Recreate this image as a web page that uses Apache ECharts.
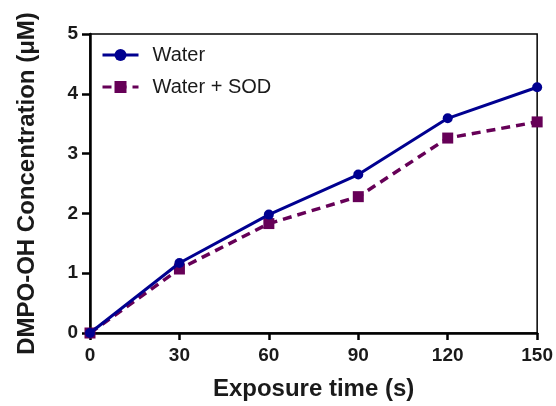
<!DOCTYPE html>
<html>
<head>
<meta charset="utf-8">
<script src="https://cdn.jsdelivr.net/npm/echarts@6/dist/echarts.min.js"></script>
<style>html,body{margin:0;padding:0;background:#fff;}#c{width:556px;height:406px;}</style>
</head>
<body>
<div id="c"></div>
<script>
const times = [0, 30, 60, 90, 120, 150];
const water = [0, 1.17, 1.98, 2.65, 3.59, 4.11];
const waterSOD = [0, 1.07, 1.83, 2.28, 3.26, 3.53];
const seriesNames = ['Water', 'Water + SOD'];
const xTicks = [0, 30, 60, 90, 120, 150];
const yTicks = [0, 1, 2, 3, 4, 5];

const font = 'Arial, "Liberation Sans", Helvetica, sans-serif';
const chart = echarts.init(document.getElementById('c'));
chart.setOption({
  animation: false,
  backgroundColor: '#fff',
  grid: { left: 90, right: 17, top: 34, bottom: 72, show: true, borderColor: '#000', borderWidth: 1.5, backgroundColor: 'transparent' },
  legend: {
    left: 96, top: 40, orient: 'vertical', itemGap: 12, itemWidth: 36, itemHeight: 15,
    textStyle: { fontFamily: font, fontSize: 20, color: '#1a1a1a', padding: [0, 0, 0, 9] },
    lineStyle: { width: 3 },
    data: seriesNames
  },
  xAxis: {
    type: 'value', min: 0, max: 150, interval: 30,
    name: 'Exposure time (s)', nameLocation: 'middle', nameGap: 44,
    nameTextStyle: { fontFamily: font, fontSize: 24, fontWeight: 'bold', color: '#1a1a1a' },
    axisLine: { show: true, lineStyle: { color: '#000', width: 2.5 } },
    axisTick: { show: true, length: 7, lineStyle: { color: '#000', width: 2.5 } },
    axisLabel: { margin: 13, fontFamily: font, fontSize: 19, fontWeight: 'bold', color: '#1a1a1a',
      formatter: v => xTicks.includes(v) ? String(v) : '' },
    splitLine: { show: false }
  },
  yAxis: {
    type: 'value', min: 0, max: 5, interval: 1,
    name: 'DMPO-OH Concentration (\u03bcM)', nameLocation: 'middle', nameGap: 51,
    nameTextStyle: { fontFamily: font, fontSize: 24, fontWeight: 'bold', color: '#1a1a1a' },
    axisLine: { show: true, lineStyle: { color: '#000', width: 2.5 } },
    axisTick: { show: true, length: 8, lineStyle: { color: '#000', width: 2.5 } },
    axisLabel: { margin: 12, fontFamily: font, fontSize: 19, fontWeight: 'bold', color: '#1a1a1a',
      formatter: v => yTicks.includes(v) ? String(v) : '' },
    splitLine: { show: false }
  },
  series: [
    {
      name: seriesNames[0], type: 'line',
      data: times.map((t, i) => [t, water[i]]),
      symbol: 'circle', symbolSize: 10,
      lineStyle: { color: '#000090', width: 3 },
      itemStyle: { color: '#000090' },
      clip: false, z: 3
    },
    {
      name: seriesNames[1], type: 'line',
      data: times.map((t, i) => [t, waterSOD[i]]),
      symbol: 'rect', symbolSize: 11,
      lineStyle: { color: '#660057', width: 3.5, type: [9, 6] },
      itemStyle: { color: '#660057' },
      clip: false, z: 2
    }
  ]
});
</script>
</body>
</html>
